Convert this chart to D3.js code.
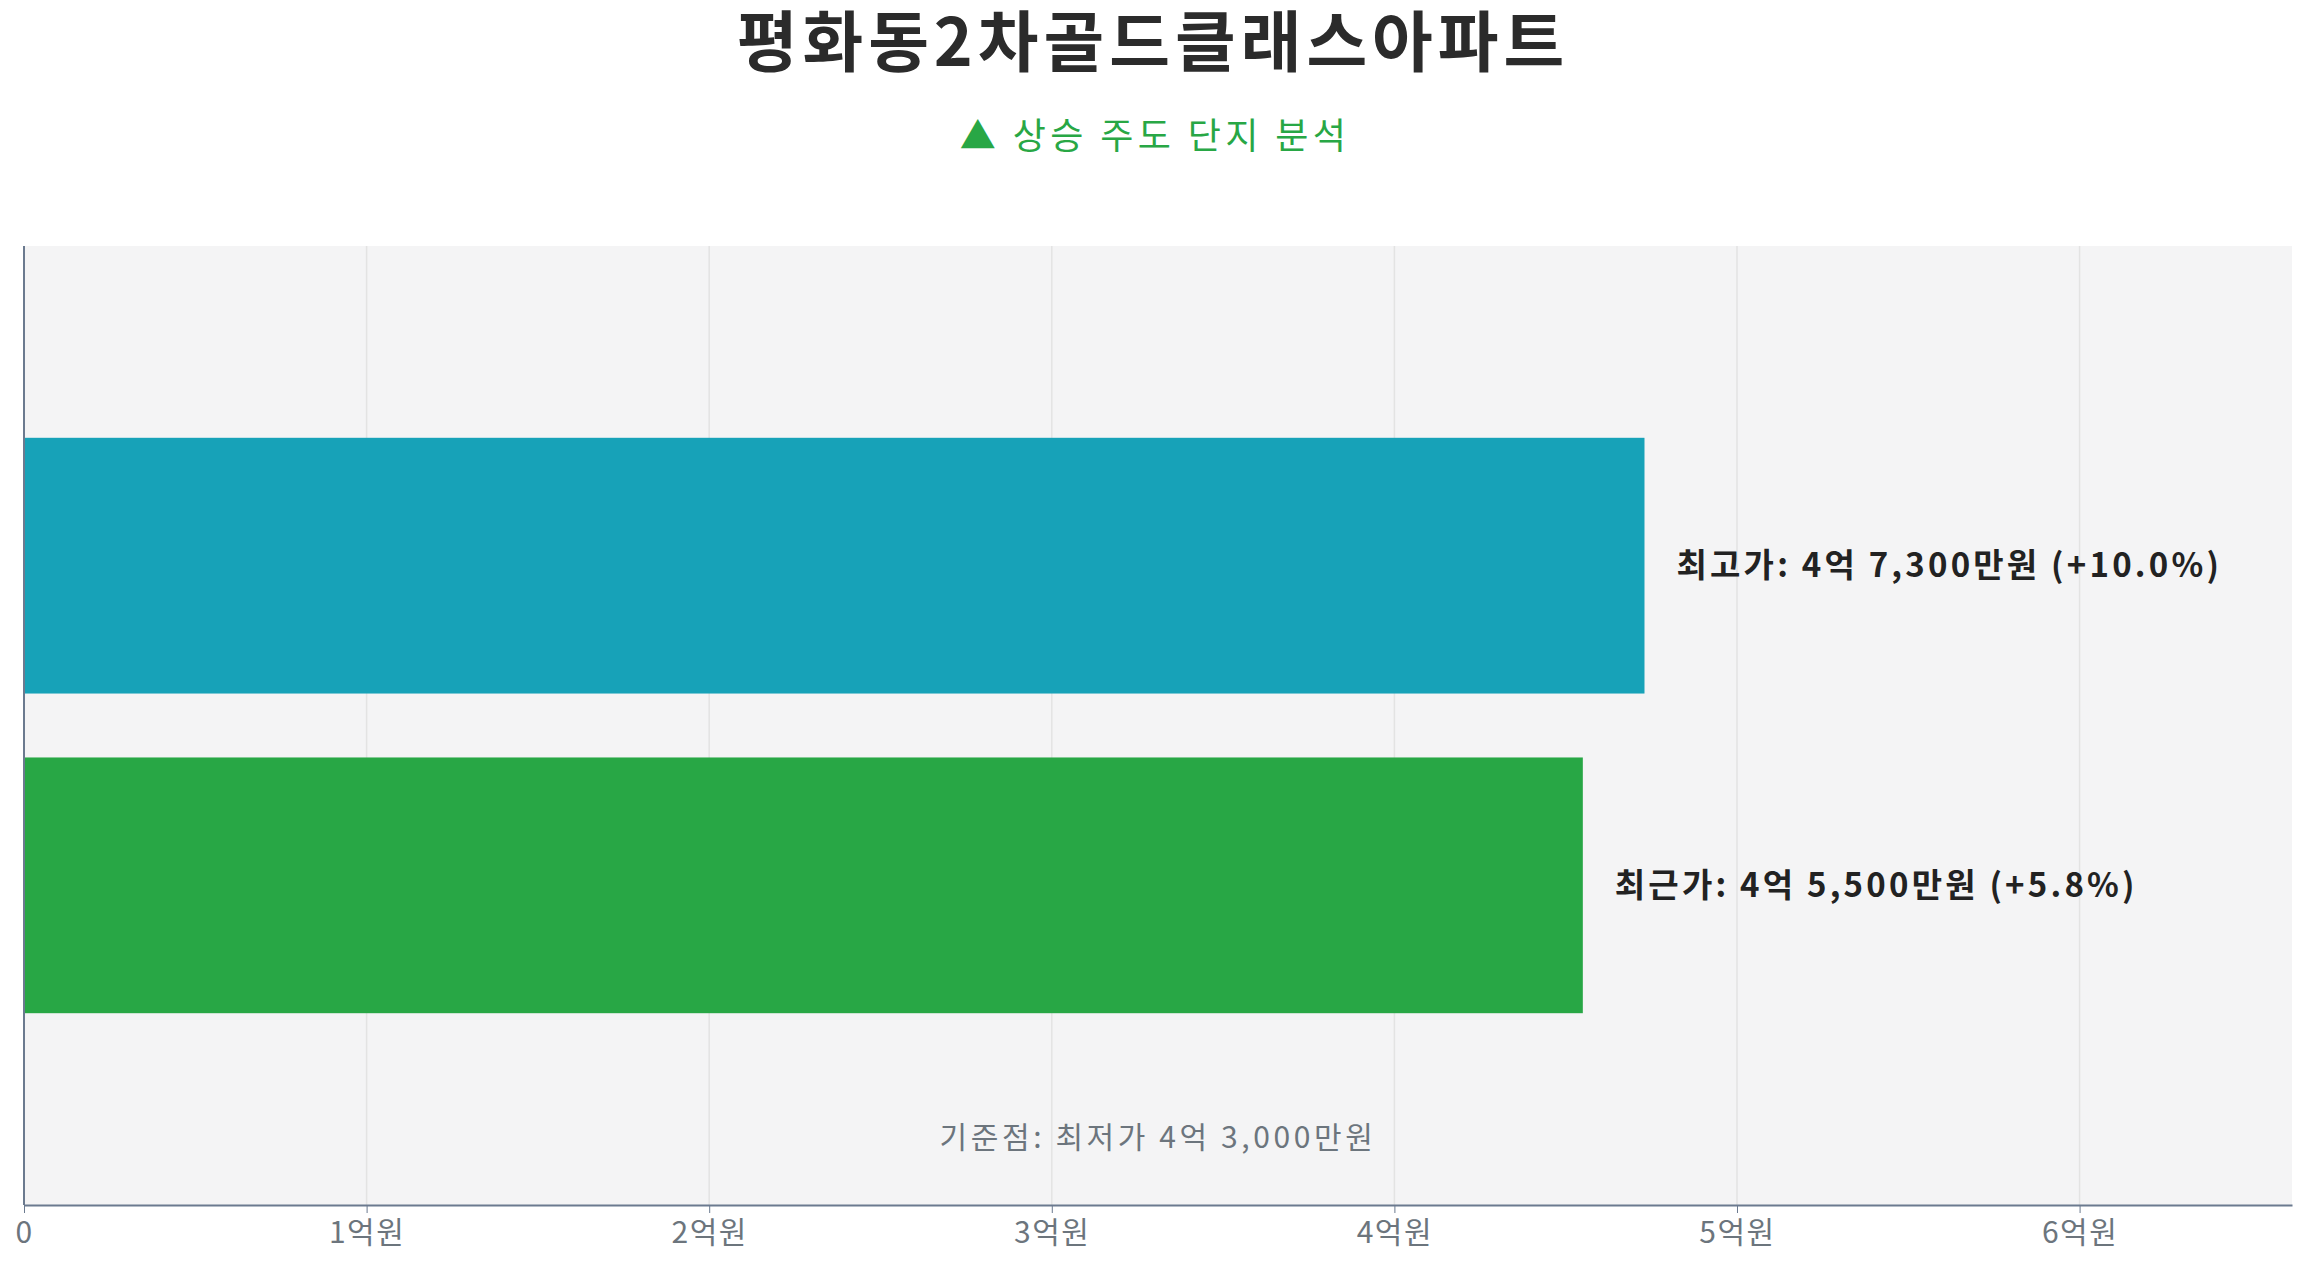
<!DOCTYPE html>
<html><head><meta charset="utf-8">
<script src="https://cdn.jsdelivr.net/npm/d3@7"></script>
<style>body{margin:0;background:#fff;font-family:"Noto Sans CJK KR","Noto Sans",sans-serif}</style>
</head><body><svg id="c" width="2307" height="1268"></svg>
<script>
const categories = ["최고가", "최근가"];
const values = [4.73, 4.55]; // 억원
const labels = ["최고가: 4억 7,300만원 (+10.0%)", "최근가: 4억 5,500만원 (+5.8%)"];
const colors = ["#17a2b8", "#28a745"];
const tickValues = [0, 1, 2, 3, 4, 5, 6];
const tickLabels = ["0", "1억원", "2억원", "3억원", "4억원", "5억원", "6억원"];

const svg = d3.select("#c");
const L = 24, R = 2292, T = 246, B = 1205;
const x = d3.scaleLinear().domain([0, 6.62]).range([L, R]);
const y = d3.scaleBand().domain(categories).range([T, B]).paddingInner(0.2).paddingOuter(0.6);

svg.append("rect").attr("x", L).attr("y", T).attr("width", R - L).attr("height", B - T).attr("fill", "#f4f4f5");
svg.append("g").selectAll("line").data(tickValues.slice(1)).join("line")
  .attr("x1", d => x(d)).attr("x2", d => x(d)).attr("y1", T).attr("y2", B)
  .attr("stroke", "#e3e3e3").attr("stroke-width", 1.5);

svg.append("text").attr("x", 1153).attr("y", 66).attr("text-anchor", "middle")
  .attr("font-size", 66).attr("font-weight", 700).attr("fill", "#2b2b2b").attr("letter-spacing", 5)
  .text("평화동2차골드클래스아파트");
svg.append("text").attr("x", 1155).attr("y", 149).attr("text-anchor", "middle")
  .attr("font-size", 36).attr("fill", "#28a745").attr("letter-spacing", 4.4).text("▲ 상승 주도 단지 분석");

svg.append("g").selectAll("rect").data(categories).join("rect")
  .attr("x", x(0)).attr("y", d => y(d)).attr("width", (d, i) => x(values[i]) - x(0))
  .attr("height", y.bandwidth()).attr("fill", (d, i) => colors[i]);
svg.append("g").selectAll("text").data(categories).join("text")
  .attr("x", (d, i) => x(values[i]) + 32).attr("y", d => y(d) + y.bandwidth() / 2)
  .attr("dy", "0.35em").attr("font-size", 33).attr("font-weight", 700).attr("fill", "#222")
  .attr("letter-spacing", 3.2).text((d, i) => labels[i]);

svg.append("text").attr("x", 1158).attr("y", 1137).attr("dy", "0.35em").attr("text-anchor", "middle")
  .attr("font-size", 30).attr("fill", "#6c757d").attr("letter-spacing", 3.6).text("기준점: 최저가 4억 3,000만원");

const ax = svg.append("g").attr("transform", `translate(0,${B})`)
  .call(d3.axisBottom(x).tickValues(tickValues).tickFormat((d, i) => tickLabels[i]).tickSize(8).tickSizeOuter(0));
ax.select(".domain").attr("stroke", "#6b7a8f").attr("stroke-width", 2);
ax.selectAll(".tick line").attr("stroke", "#6b7a8f");
ax.selectAll("text").attr("font-size", 30).attr("fill", "#6c757d").attr("font-family", "Noto Sans CJK KR")
  .attr("letter-spacing", 1.5).attr("dy", "0.9em");
svg.append("line").attr("x1", L).attr("x2", L).attr("y1", T).attr("y2", B).attr("stroke", "#6b7a8f").attr("stroke-width", 2);
</script></body></html>
